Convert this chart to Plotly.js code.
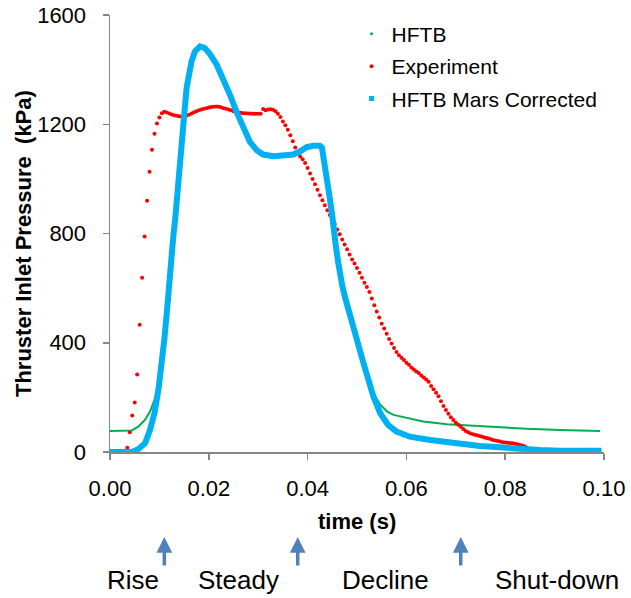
<!DOCTYPE html>
<html>
<head>
<meta charset="utf-8">
<script src="https://cdn.plot.ly/plotly-3.0.1.min.js"></script>
<style>
  html, body { margin: 0; padding: 0; background: #ffffff; }
  #chart { width: 631px; height: 598px; }
</style>
</head>
<body>
<div id="chart"></div>
<script>
// Measured thruster inlet pressure, one sample every 0.5 ms starting at t = 0 s (kPa)
const expStep = 0.0005;
const expPressure = [
  0, 0, 0, 0, 0, 0, 0, 16, 72, 134,
  181, 284, 466, 638, 789, 920, 1026, 1107, 1165, 1203,
  1225, 1240, 1246, 1243, 1239, 1236, 1233, 1231, 1229, 1228,
  1229, 1232, 1235, 1239, 1244, 1248, 1251, 1254, 1257, 1259,
  1261, 1263, 1264, 1265, 1264, 1262, 1259, 1257, 1254, 1251,
  1248, 1245, 1243, 1242, 1240, 1240, 1239, 1239, 1238, 1238,
  1238, 1238, 1256, 1251, 1254, 1255, 1253, 1248, 1238, 1227,
  1210, 1196, 1180, 1160, 1138, 1115, 1094, 1082, 1072, 1058,
  1040, 1020, 1000, 980, 960, 940, 922, 903, 885, 868,
  852, 835, 815, 797, 778, 760, 742, 723, 705, 690,
  674, 656, 638, 620, 604, 586, 562, 537, 514, 492,
  470, 452, 433, 414, 397, 381, 366, 354, 345, 337,
  327, 319, 309, 302, 295, 289, 280, 273, 265, 257,
  242, 230, 217, 204, 186, 168, 154, 140, 127, 117,
  107, 100, 92, 84, 77, 72, 68, 65, 62, 60,
  58, 55, 52, 50, 48, 44, 42, 40, 38, 36,
  35, 34, 33, 32, 30, 28, 26, 24, 20, 15,
  10, 6, 3, 0, 0, 0, 0, 0, 0, 0,
  0, 0, 0, 0, 0, 0
];
const expTime = expPressure.map((_, i) => +(i * expStep).toFixed(4));

// HFTB simulation (s, kPa)
const hftbTime = [
  0, 0.0044, 0.0057, 0.0071, 0.0081, 0.0090, 0.0098, 0.0105, 0.0110, 0.0115,
  0.0118, 0.0121, 0.0125, 0.0128, 0.0132, 0.0135, 0.0138, 0.0142, 0.0145, 0.0148,
  0.0152, 0.0155, 0.0159, 0.0165, 0.0172, 0.0182, 0.0192, 0.0202, 0.0216, 0.0229,
  0.0243, 0.0256, 0.0270, 0.0283, 0.0297, 0.0310, 0.0331, 0.0351, 0.0371, 0.0385,
  0.0398, 0.0412, 0.0425, 0.0429, 0.0435, 0.0439, 0.0444, 0.0449, 0.0452, 0.0457,
  0.0462, 0.0467, 0.0470, 0.0476, 0.0484, 0.0493, 0.0503, 0.0513, 0.0523, 0.0530,
  0.0547, 0.0561, 0.0574, 0.0601, 0.0634, 0.0682, 0.0709, 0.0729, 0.0776, 0.0844,
  0.0911, 0.0951, 0.0992
];
const hftbPressure = [
  77, 79, 93, 118, 148, 191, 245, 335, 415, 512,
  590, 645, 719, 786, 854, 927, 989, 1050, 1100, 1185,
  1271, 1332, 1381, 1430, 1467, 1485, 1479, 1458, 1418, 1369,
  1307, 1246, 1185, 1136, 1105, 1089, 1083, 1084, 1089, 1101,
  1116, 1121, 1121, 1115, 1056, 1001, 940, 878, 817, 756,
  694, 633, 610, 565, 510, 449, 388, 326, 265, 225,
  173, 148, 136, 124, 112, 102, 99, 96, 91, 85,
  81, 78, 77
];

// HFTB with Mars correction (s, kPa)
const marsTime = [
  0, 0.0044, 0.0057, 0.0071, 0.0081, 0.0090, 0.0098, 0.0105, 0.0110, 0.0115,
  0.0118, 0.0121, 0.0125, 0.0128, 0.0132, 0.0135, 0.0138, 0.0142, 0.0145, 0.0148,
  0.0152, 0.0155, 0.0159, 0.0165, 0.0172, 0.0182, 0.0192, 0.0202, 0.0216, 0.0229,
  0.0243, 0.0256, 0.0270, 0.0283, 0.0297, 0.0310, 0.0331, 0.0351, 0.0371, 0.0385,
  0.0398, 0.0412, 0.0425, 0.0429, 0.0435, 0.0439, 0.0444, 0.0449, 0.0452, 0.0457,
  0.0462, 0.0467, 0.0470, 0.0476, 0.0484, 0.0493, 0.0503, 0.0513, 0.0523, 0.0533,
  0.0547, 0.0563, 0.0580, 0.0607, 0.0648, 0.0688, 0.0742, 0.0749, 0.0789, 0.0830,
  0.0870, 0.0911, 0.0995
];
const marsPressure = [
  0, 0, 10, 32, 81, 142, 228, 326, 412, 510,
  590, 645, 719, 786, 854, 927, 989, 1050, 1100, 1185,
  1271, 1332, 1381, 1430, 1467, 1485, 1479, 1458, 1418, 1369,
  1307, 1246, 1185, 1136, 1105, 1089, 1083, 1084, 1089, 1101,
  1116, 1121, 1121, 1115, 1056, 1001, 940, 878, 817, 756,
  694, 633, 610, 565, 510, 449, 388, 326, 265, 204,
  142, 99, 75, 56, 44, 34, 26, 22, 17, 10,
  7, 5, 5
];

// Phase boundaries (s) marked with arrows under the time axis
const phaseBoundaries = [0.011, 0.038, 0.071];
const phaseNames = ['Rise', 'Steady', 'Decline', 'Shut-down'];
const phaseLabelX = [0.0466, 0.261, 0.557, 0.904];

const FONT = 'Arial, "Liberation Sans", sans-serif';
const GREEN = '#00B050', RED = '#FF0000', BLUE = '#00B0F0';
const AXIS = '#868686';

const traces = [
  { x: hftbTime, y: hftbPressure, mode: 'lines', name: 'HFTB',
    line: { color: GREEN, width: 2 }, showlegend: false, hoverinfo: 'skip' },
  { x: expTime, y: expPressure, mode: 'markers', name: 'Experiment',
    marker: { color: RED, size: 4 }, showlegend: false, hoverinfo: 'skip' },
  { x: marsTime, y: marsPressure, mode: 'lines', name: 'HFTB Mars Corrected',
    line: { color: BLUE, width: 6 }, showlegend: false, hoverinfo: 'skip' },
  // legend keys drawn as single markers
  { x: [null], y: [null], mode: 'markers', name: 'HFTB', legendgroup: 'g1',
    marker: { color: GREEN, size: 3 } },
  { x: [null], y: [null], mode: 'markers', name: 'Experiment', legendgroup: 'g2',
    marker: { color: RED, size: 4 } },
  { x: [null], y: [null], mode: 'markers', name: 'HFTB Mars Corrected', legendgroup: 'g3',
    marker: { color: BLUE, size: 5, symbol: 'square' } }
];

const annotations = [];
phaseBoundaries.forEach(b => {
  annotations.push({
    x: b, xref: 'x', y: -0.1945, yref: 'paper',
    ax: 0, ay: 30, axref: 'pixel', ayref: 'pixel',
    text: '', showarrow: true, arrowhead: 2, arrowsize: 0.9,
    arrowwidth: 3.5, arrowcolor: '#4F81BD'
  });
});
phaseNames.forEach((n, i) => {
  annotations.push({
    x: phaseLabelX[i], xref: 'paper', y: -0.293, yref: 'paper',
    xanchor: 'center', yanchor: 'middle', showarrow: false,
    text: n, font: { family: FONT, size: 26, color: '#000000' }
  });
});
annotations.push({
  x: -0.174, xref: 'paper', y: 0.476, yref: 'paper',
  xanchor: 'center', yanchor: 'middle', showarrow: false, textangle: -90,
  text: '<b>Thruster Inlet Pressure\u00a0 (kPa)</b>',
  font: { family: FONT, size: 22, color: '#000000' }
});
annotations.push({
  x: 0.5, xref: 'paper', y: -0.159, yref: 'paper',
  xanchor: 'center', yanchor: 'middle', showarrow: false,
  text: '<b>time (s)</b>',
  font: { family: FONT, size: 22, color: '#000000' }
});

const layout = {
  width: 631, height: 598,
  margin: { l: 110, r: 27, t: 15, b: 146 },
  paper_bgcolor: '#ffffff', plot_bgcolor: '#ffffff',
  font: { family: FONT, size: 21, color: '#000000' },
  showlegend: true,
  legend: {
    x: 0.489, xanchor: 'left', y: 1.003, yanchor: 'top',
    traceorder: 'grouped', tracegroupgap: 2,
    bgcolor: 'rgba(0,0,0,0)', borderwidth: 0,
    font: { family: FONT, size: 21, color: '#000000' }
  },
  xaxis: {
    range: [0, 0.1], dtick: 0.02, tick0: 0, tickformat: '.2f',
    showgrid: false, zeroline: false,
    showline: true, linecolor: AXIS, linewidth: 1.5,
    ticks: 'outside', ticklen: 6, tickcolor: AXIS, tickwidth: 1.5,
    ticklabelstandoff: 10,
    tickfont: { family: FONT, size: 22, color: '#000000' }
  },
  yaxis: {
    range: [0, 1600], dtick: 400, tick0: 0,
    showgrid: false, zeroline: false,
    showline: true, linecolor: AXIS, linewidth: 1.5,
    ticks: 'outside', ticklen: 6, tickcolor: AXIS, tickwidth: 1.5,
    ticklabelstandoff: 12,
    tickfont: { family: FONT, size: 22, color: '#000000' }
  },
  annotations: annotations
};

Plotly.newPlot('chart', traces, layout, { staticPlot: true, displayModeBar: false });
</script>
</body>
</html>
